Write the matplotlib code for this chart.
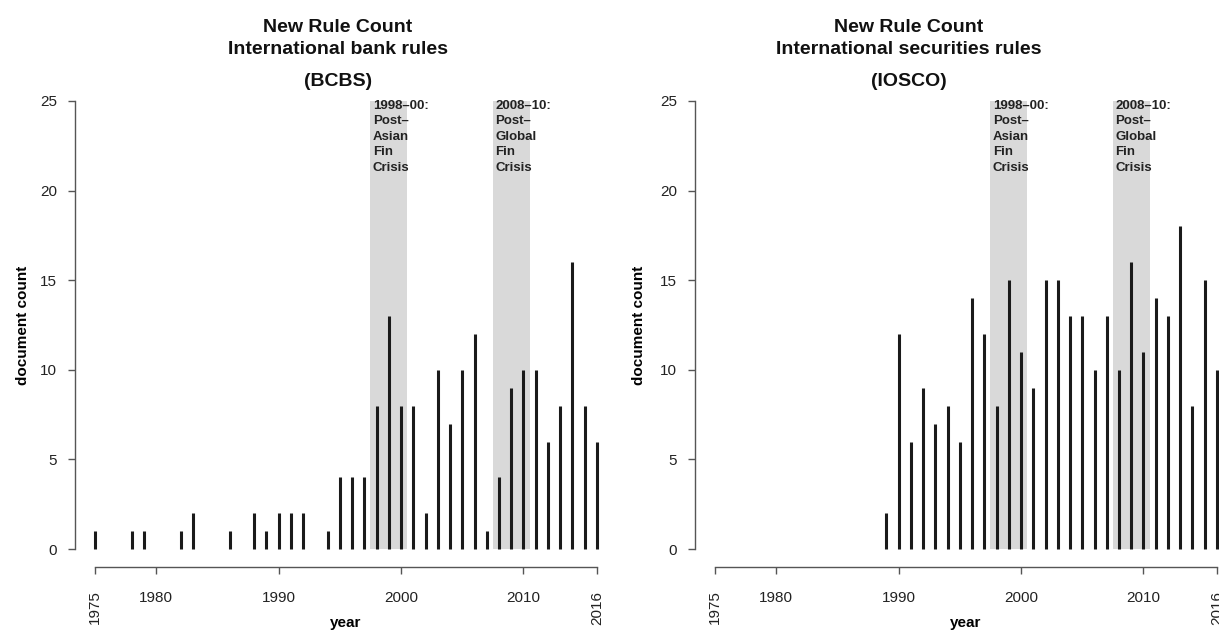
import matplotlib.pyplot as plt
import numpy as np

plt.rcParams['font.family'] = ['Liberation Sans', 'DejaVu Sans']

# BCBS (bank rules) new documents per year
bcbs_years  = [1975, 1978, 1979, 1982, 1983, 1986, 1988, 1989, 1990, 1991, 1992,
               1994, 1995, 1996, 1997, 1998, 1999, 2000, 2001, 2002, 2003, 2004,
               2005, 2006, 2007, 2008, 2009, 2010, 2011, 2012, 2013, 2014, 2015, 2016]
bcbs_counts = [1, 1, 1, 1, 2, 1, 2, 1, 2, 2, 2,
               1, 4, 4, 4, 8, 13, 8, 8, 2, 10, 7,
               10, 12, 1, 4, 9, 10, 10, 6, 8, 16, 8, 6]

# IOSCO (securities rules) new documents per year
iosco_years  = [1989, 1990, 1991, 1992, 1993, 1994, 1995, 1996, 1997, 1998, 1999,
                2000, 2001, 2002, 2003, 2004, 2005, 2006, 2007, 2008, 2009, 2010,
                2011, 2012, 2013, 2014, 2015, 2016]
iosco_counts = [2, 12, 6, 9, 7, 8, 6, 14, 12, 8, 15,
                11, 9, 15, 15, 13, 13, 10, 13, 10, 16, 11,
                14, 13, 18, 8, 15, 10]

crisis_periods = [(1997.5, 2000.5), (2007.5, 2010.5)]
crisis_labels  = ['1998\u201300:\nPost\u2013\nAsian\nFin\nCrisis',
                  '2008\u201310:\nPost\u2013\nGlobal\nFin\nCrisis']

x_ticks  = [1975, 1980, 1990, 2000, 2010, 2016]
y_ticks  = [0, 5, 10, 15, 20, 25]
x_first, x_last = 1975, 2016
y_top = 25

W, H = 1219, 632
fig = plt.figure(figsize=(W / 100, H / 100), dpi=100)

axis_col = '#555555'


def panel(left_px, title_cx, ylab_px, years, counts, subtitle, org):
    # R-style plot region: axes extend 4% beyond data range
    xpad = (x_last - x_first) * 0.04
    ypad = y_top * 0.04
    width_px = 542
    ax = fig.add_axes([left_px / W, (H - 567) / H, width_px / W, (567 - 83) / H])
    ax.set_xlim(x_first - xpad, x_last + xpad)
    ax.set_ylim(-ypad, y_top + ypad)

    for (a, b), lab in zip(crisis_periods, crisis_labels):
        ax.fill_between([a, b], 0, y_top, color='#d9d9d9', lw=0, zorder=1)
        ax.text(a + 0.2, y_top + 0.05, lab, ha='left', va='top', fontsize=9.5,
                fontweight='bold', color='#222222', linespacing=1.38, zorder=3)

    ax.vlines(years, 0, counts, lw=2.2, color='#1a1a1a', zorder=2)

    for s in ['top', 'right']:
        ax.spines[s].set_visible(False)
    ax.spines['left'].set_bounds(0, y_top)
    ax.spines['bottom'].set_bounds(x_first, x_last)
    for s in ['left', 'bottom']:
        ax.spines[s].set_color(axis_col)
        ax.spines[s].set_linewidth(1)

    ax.set_yticks(y_ticks)
    ax.set_xticks(x_ticks)
    ax.set_xticklabels([str(t) for t in x_ticks])
    ax.tick_params(axis='both', direction='out', length=5, width=1,
                   color=axis_col, labelcolor='#222222', labelsize=11)
    ax.tick_params(axis='y', pad=8)
    ax.tick_params(axis='x', pad=12)
    labs = ax.get_xticklabels()
    for lab in (labs[0], labs[-1]):
        lab.set_rotation(90)
        lab.set_va('top')

    ax.set_ylabel('document count', fontsize=11, fontweight='bold')
    ax.yaxis.set_label_coords((ylab_px - left_px) / width_px, 0.5)
    ax.set_xlabel('year', fontsize=11, fontweight='bold')
    ax.xaxis.set_label_coords(0.5, (567 - 623) / 484)
    ax.xaxis.label.set_va('center')

    fig.text(title_cx / W, 1 - 27 / H, 'New Rule Count', ha='center', va='center',
             fontsize=14, fontweight='bold', color='#111111')
    fig.text(title_cx / W, 1 - 50 / H, subtitle, ha='center', va='center',
             fontsize=14, fontweight='bold', color='#111111')
    fig.text(title_cx / W, 1 - 82 / H, org, ha='center', va='center',
             fontsize=14, fontweight='bold', color='#111111')
    return ax


panel(75, 338, 30, bcbs_years, bcbs_counts, 'International bank rules', '(BCBS)')
panel(695, 909, 646, iosco_years, iosco_counts, 'International securities rules', '(IOSCO)')

fig.savefig('out.png', dpi=100)
